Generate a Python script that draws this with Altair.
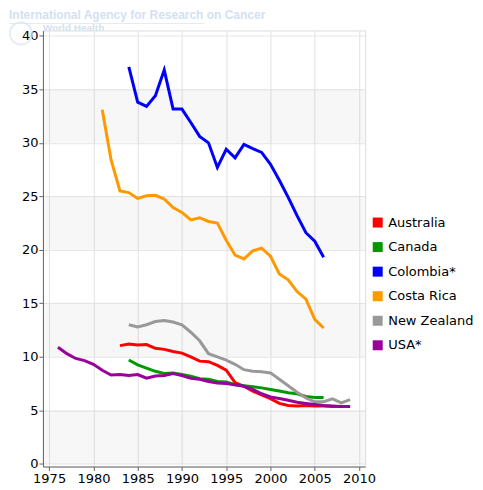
import altair as alt
import pandas as pd

countries = ["Australia", "Canada", "Colombia*", "Costa Rica", "New Zealand", "USA*"]
colors = ["#ff0000", "#009900", "#0000ff", "#ff9900", "#999999", "#990099"]

aus_start = 1983
aus_vals = [11.05, 11.2, 11.1, 11.15, 10.8, 10.7, 10.5, 10.35, 10.0, 9.6, 9.55, 9.2, 8.75,
            7.6, 7.25, 6.8, 6.45, 6.1, 5.65, 5.45, 5.4, 5.45, 5.4, 5.4, 5.35, 5.35]
can_start = 1984
can_vals = [9.7, 9.25, 8.95, 8.65, 8.45, 8.5, 8.35, 8.2, 7.95, 7.9, 7.7, 7.65, 7.4, 7.3,
            7.2, 7.1, 6.95, 6.8, 6.65, 6.55, 6.3, 6.2, 6.2]
col_start = 1984
col_vals = [37.1, 33.8, 33.4, 34.4, 36.8, 33.15, 33.15, 31.9, 30.6, 30.0, 27.7, 29.4, 28.6,
            29.85, 29.45, 29.1, 28.0, 26.5, 24.9, 23.2, 21.6, 20.8, 19.3]
cri_start = 1981
cri_vals = [33.1, 28.4, 25.5, 25.35, 24.8, 25.05, 25.1, 24.75, 23.95, 23.5, 22.8, 23.0, 22.65,
            22.5, 20.9, 19.5, 19.15, 19.9, 20.15, 19.4, 17.75, 17.2, 16.1, 15.4, 13.5, 12.7]
nzl_start = 1984
nzl_vals = [13.0, 12.8, 13.0, 13.3, 13.4, 13.25, 13.0, 12.3, 11.5, 10.3, 10.0, 9.7, 9.3, 8.8,
            8.65, 8.6, 8.5, 7.9, 7.3, 6.7, 6.15, 5.8, 5.8, 6.07, 5.7, 6.0]
usa_start = 1976
usa_vals = [10.9, 10.3, 9.85, 9.65, 9.3, 8.75, 8.3, 8.35, 8.25, 8.35, 8.0, 8.2, 8.25, 8.45,
            8.25, 8.0, 7.9, 7.7, 7.55, 7.5, 7.4, 7.25, 6.95, 6.55, 6.25, 6.1, 5.95, 5.75,
            5.65, 5.55, 5.45, 5.4, 5.35, 5.35]

x_ticks = [1975, 1980, 1985, 1990, 1995, 2000, 2005, 2010]
y_ticks = [0, 5, 10, 15, 20, 25, 30, 35, 40]
band_lo = [0, 10, 20, 30]
band_hi = [5, 15, 25, 35]

series = [(countries[0], aus_start, aus_vals), (countries[1], can_start, can_vals),
          (countries[2], col_start, col_vals), (countries[3], cri_start, cri_vals),
          (countries[4], nzl_start, nzl_vals), (countries[5], usa_start, usa_vals)]
rows = []
for name, start, vals in series:
    for i, v in enumerate(vals):
        rows.append({"country": name, "year": start + i, "value": v})
df = pd.DataFrame(rows)
bands = pd.DataFrame({"lo": band_lo, "hi": band_hi})

W, H = 323, 437
FONT = "DejaVu Sans"
WM = "#d3e1f1"

xscale = alt.Scale(domain=[1974.3, 2010.7], nice=False, zero=False)
yscale = alt.Scale(domain=[-0.25, 40.5], nice=False, zero=False)

xaxis = alt.Axis(values=x_ticks, format="d", title=None, grid=True, gridColor="#e2e2e2",
                 labelFontSize=13, labelFont=FONT, labelColor="#000", tickSize=4,
                 tickColor="#666", domainColor="#666", labelPadding=2, labelFlush=False)
yaxis = alt.Axis(values=y_ticks, title=None, grid=True, gridColor="#e6e6e6",
                 labelFontSize=13, labelFont=FONT, labelColor="#000", tickSize=4,
                 tickColor="#666", domainColor="#666", labelPadding=1)

band_layer = alt.Chart(bands).mark_rect(color="#000", opacity=0.03).encode(
    x=alt.value(0), x2=alt.value(W),
    y=alt.Y("lo:Q", scale=yscale, axis=yaxis), y2="hi:Q")

lines = alt.Chart(df).mark_line(strokeWidth=3, strokeCap="butt").encode(
    x=alt.X("year:Q", scale=xscale, axis=xaxis),
    y=alt.Y("value:Q", scale=yscale, axis=yaxis),
    color=alt.Color("country:N", scale=alt.Scale(domain=countries, range=colors),
                    legend=alt.Legend(title=None, orient="none", legendX=329, legendY=186,
                                      symbolType="square", symbolSize=16, symbolStrokeWidth=6,
                                      labelFontSize=13, labelFont=FONT, labelColor="#000",
                                      rowPadding=-4.4, labelOffset=4)),
    detail="country:N")

wm1 = alt.Chart(pd.DataFrame({"t": ["International Agency for Research on Cancer"]})).mark_text(
    align="left", baseline="middle", fontSize=12, fontWeight="bold", font="Liberation Sans",
    color=WM).encode(x=alt.value(-34), y=alt.value(-15), text="t:N")
wm_rule = alt.Chart(pd.DataFrame({"t": [1]})).mark_rule(color="#e3ecf6", strokeWidth=1).encode(
    x=alt.value(-34), x2=alt.value(162), y=alt.value(-7))
wm2 = alt.Chart(pd.DataFrame({"t": ["World Health"]})).mark_text(
    align="left", baseline="alphabetic", fontSize=10, fontWeight="bold", font="Liberation Sans",
    color=WM).encode(x=alt.value(0), y=alt.value(1), text="t:N")
logo = alt.Chart(pd.DataFrame({"t": [1]})).mark_point(
    shape="circle", size=500, filled=False, color="#dbe6f3", strokeWidth=2).encode(
    x=alt.value(-22), y=alt.value(3))

chart = alt.layer(band_layer, lines, wm1, wm_rule, wm2, logo).properties(
    width=W, height=H,
    padding={"left": 35, "top": 22, "right": 110, "bottom": 20},
    autosize=alt.AutoSizeParams(type="none"),
).configure_view(stroke="#777", strokeWidth=1).configure(background="white")

chart.save("out.html", embed_options={"renderer": "svg", "actions": False})
